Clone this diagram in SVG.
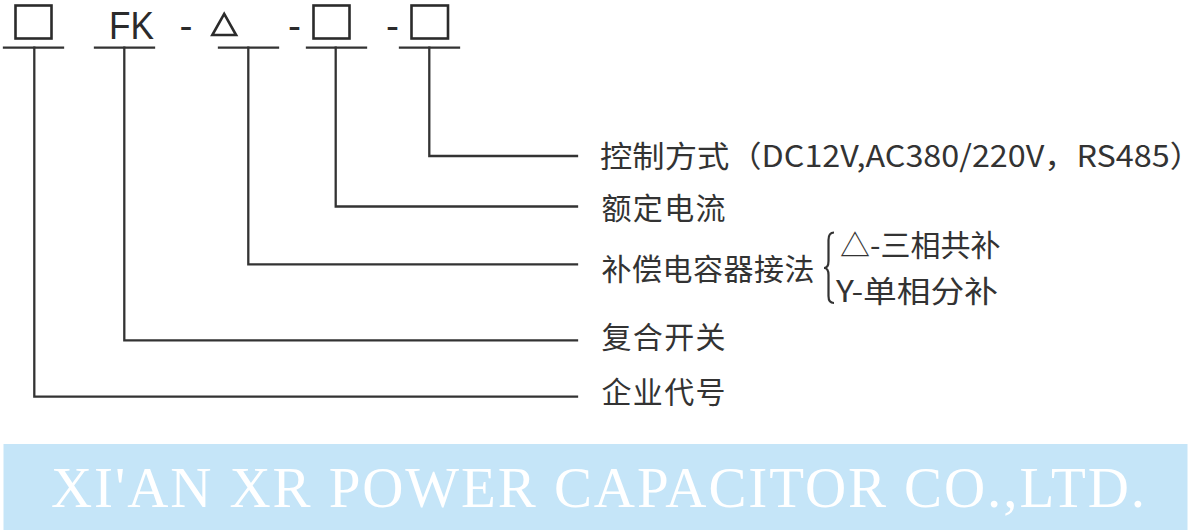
<svg xmlns="http://www.w3.org/2000/svg" width="1191" height="532" viewBox="0 0 1191 532">
<style>
.ln{fill:none;stroke:#333;stroke-width:2.3;stroke-linecap:square}
.sym{fill:none;stroke:#2b2b2b;stroke-width:2.6}
.top{font-family:"Liberation Sans",Arial,sans-serif;font-size:39px;fill:#2b2b2b}
.lbl{font-family:"Noto Sans CJK SC","Noto Sans",sans-serif;font-size:30px;fill:#333}
.ban{font-family:"Liberation Serif","Times New Roman",serif;font-size:57px;fill:#ffffff}
</style>
<rect width="1191" height="532" fill="#ffffff"/>
<g id="code">
  <rect class="sym" x="15.5" y="5.5" width="36" height="33"/>
  <text class="top" x="109" y="39.3" textLength="45" lengthAdjust="spacingAndGlyphs">FK</text>
  <text class="top" x="186" y="39.3" text-anchor="middle">-</text>
  <polygon class="sym" points="224.2,13.8 212.3,35 236.1,35"/>
  <text class="top" x="294.5" y="39.3" text-anchor="middle">-</text>
  <rect class="sym" x="313.5" y="5.5" width="36" height="33"/>
  <text class="top" x="392.5" y="39.3" text-anchor="middle">-</text>
  <rect class="sym" x="411.5" y="5.5" width="36.5" height="33"/>
</g>
<g id="connectors">
  <path class="ln" d="M4 47.7H63M95 47.7H154M219 47.7H278M307 47.7H366M400 47.7H459"/>
  <path class="ln" d="M34.3 47.7V396.7H577"/>
  <path class="ln" d="M124.3 47.7V340.3H577"/>
  <path class="ln" d="M248.3 47.7V264.3H577"/>
  <path class="ln" d="M335.7 47.7V206.5H577"/>
  <path class="ln" d="M429.3 47.7V156H577"/>
</g>
<g id="label-control">
  <text class="lbl" x="600" y="166.5" textLength="602" lengthAdjust="spacingAndGlyphs">控制方式（DC12V,AC380/220V，RS485）</text>
</g>
<g id="label-current">
  <text class="lbl" x="601.5" y="219" textLength="124" lengthAdjust="spacing">额定电流</text>
</g>
<g id="label-wiring">
  <text class="lbl" x="601.5" y="280" textLength="213" lengthAdjust="spacing">补偿电容器接法</text>
  <path d="M834 232.5Q828.5 232.5 828.5 240V261Q828.5 268 824 268Q828.5 268 828.5 275V296Q828.5 303 834 303" fill="none" stroke="#333" stroke-width="2.2"/>
  <text class="lbl" x="840" y="255.5">△-三相共补</text>
  <text class="lbl" x="836" y="301.5" textLength="162" lengthAdjust="spacingAndGlyphs">Y-单相分补</text>
</g>
<g id="label-switch">
  <text class="lbl" x="601.5" y="347.5" textLength="124" lengthAdjust="spacing">复合开关</text>
</g>
<g id="label-company">
  <text class="lbl" x="601.5" y="402.5" textLength="124" lengthAdjust="spacing">企业代号</text>
</g>
<g id="banner">
  <rect x="3.5" y="444" width="1184" height="86" fill="#c5e5f8"/>
  <text class="ban" x="51" y="506.5" textLength="1094" lengthAdjust="spacing">XI'AN XR POWER CAPACITOR CO.,LTD.</text>
</g>
</svg>
